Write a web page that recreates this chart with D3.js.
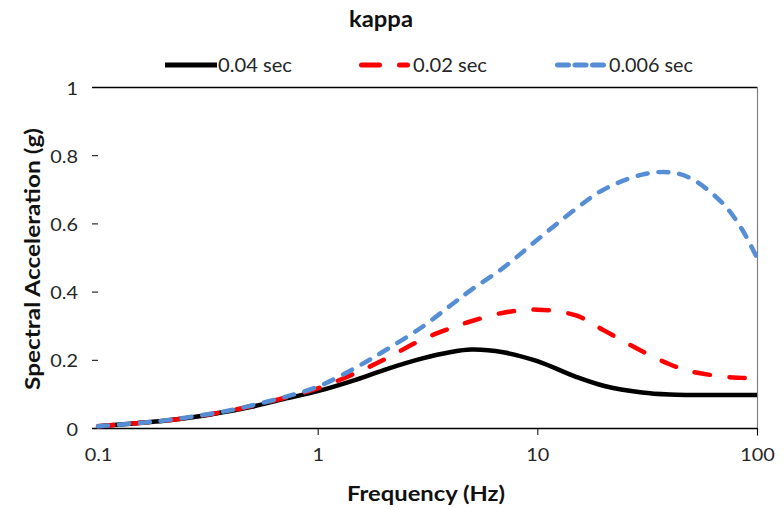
<!DOCTYPE html>
<html><head><meta charset="utf-8">
<script src="https://cdn.jsdelivr.net/npm/d3@7"></script>
<style>body{margin:0;background:#fff}svg{display:block}text{font-family:Lato,"Open Sans",sans-serif}</style>
</head><body><svg id="c" width="784" height="509"></svg>
<script>
const freqs = [0.1,0.15,0.2,0.3,0.4,0.5,0.7,1,1.5,2,3,4,5,7,10,15,20,30,40,50,70,85,100];
const k004 = [0.005,0.014,0.021,0.036,0.05,0.062,0.085,0.108,0.142,0.17,0.204,0.222,0.23,0.222,0.196,0.15,0.124,0.104,0.098,0.097,0.097,0.097,0.097];
const k002 = [0.005,0.014,0.021,0.037,0.051,0.064,0.088,0.116,0.162,0.2,0.26,0.292,0.313,0.338,0.347,0.33,0.287,0.225,0.187,0.166,0.151,0.147,0.145];
const k0006 = [0.005,0.014,0.022,0.038,0.052,0.066,0.09,0.121,0.178,0.225,0.297,0.358,0.405,0.47,0.552,0.643,0.699,0.743,0.75,0.732,0.658,0.585,0.499];
const seriesNames = ["0.04 sec","0.02 sec","0.006 sec"];
const xTicks = [0.1,1,10,100];
const xTickLabels = ["0.1","1","10","100"];
const yTicks = [0,0.2,0.4,0.6,0.8,1];
const yTickLabels = ["0","0.2","0.4","0.6","0.8","1"];
const title = "kappa", xTitle = "Frequency (Hz)", yTitle = "Spectral Acceleration (g)";

const L=98,R=757,T=87,B=428;
const svg=d3.select("#c");
const x=d3.scaleLog().domain([0.1,100]).range([L,R]);
const y=d3.scaleLinear().domain([0,1]).range([B,T]);
const STRETCH=1.17;
function stretch(sel,f){sel.each(function(){const w=this.getComputedTextLength();d3.select(this).attr("textLength",w*f).attr("lengthAdjust","spacingAndGlyphs");});}
function fitTo(sel,w){sel.attr("textLength",w).attr("lengthAdjust","spacingAndGlyphs");}

// frame lines
svg.append("line").attr("x1",92).attr("x2",R).attr("y1",T+0.5).attr("y2",T+0.5).attr("stroke","#000").attr("stroke-width",1.3);
svg.append("line").attr("x1",R+0.5).attr("x2",R+0.5).attr("y1",T).attr("y2",B+8).attr("stroke","#808080").attr("stroke-width",1.2);

// y axis
const ya=d3.axisLeft(y).tickValues(yTicks).tickFormat((d,i)=>yTickLabels[i]).tickSize(6).tickPadding(14);
const gy=svg.append("g").attr("transform",`translate(${L},0)`).call(ya);
gy.select(".domain").remove();
gy.selectAll("text").attr("font-size",17).attr("fill","#262626").attr("font-family","Lato").attr("dy","0.42em").call(stretch,STRETCH);
gy.selectAll("line").attr("stroke","#000");

// x axis
const xa=d3.axisBottom(x).tickValues(xTicks).tickFormat((d,i)=>xTickLabels[i]).tickSize(7).tickPadding(14);
const gx=svg.append("g").attr("transform",`translate(0,${B})`).call(xa);
gx.select(".domain").remove();
gx.selectAll(".tick").filter(d=>d===0.1).select("line").remove();
gx.selectAll("text").attr("font-size",17).attr("fill","#262626").attr("font-family","Lato").call(stretch,STRETCH);
gx.selectAll("line").attr("stroke","#000");
svg.append("line").attr("x1",92).attr("x2",R).attr("y1",B+0.5).attr("y2",B+0.5).attr("stroke","#000").attr("stroke-width",1.3);

// series
const data=[
  {name:seriesNames[0],vals:k004,color:"#000000",dash:null},
  {name:seriesNames[1],vals:k002,color:"#ff0000",dash:"15.5 19.5"},
  {name:seriesNames[2],vals:k0006,color:"#558ed5",dash:"10 11"}
];
const line=d3.line().x(d=>x(d[0])).y(d=>y(d[1])).curve(d3.curveCatmullRom.alpha(0.5));
data.forEach(s=>{
  svg.append("path").datum(freqs.map((f,i)=>[f,s.vals[i]])).attr("d",line)
    .attr("fill","none").attr("stroke",s.color).attr("stroke-width",4.5)
    .attr("stroke-linecap",s.dash?"round":"butt").attr("stroke-dasharray",s.dash);
});

// legend
const leg=[{x1:165,x2:217,tx:218,w:74,dash:null},{x1:361.5,x2:407.5,tx:413,w:74,dash:"18 20"},{x1:557.5,x2:604.5,tx:609,w:84,dash:"11 6.5"}];
data.forEach((s,i)=>{
  const l=leg[i];
  svg.append("line").attr("x1",l.x1).attr("x2",l.x2).attr("y1",65).attr("y2",65)
    .attr("stroke",s.color).attr("stroke-width",5).attr("stroke-linecap",s.dash?"round":"butt")
    .attr("stroke-dasharray",l.dash);
  svg.append("text").attr("x",l.tx).attr("y",72).attr("font-size",19.5).attr("fill","#262626").text(s.name).call(fitTo,l.w);
});

// titles
svg.append("text").attr("x",381).attr("y",27).attr("text-anchor","middle").attr("font-size",22).attr("font-weight","bold").attr("fill","#111").text(title).call(fitTo,64);
svg.append("text").attr("x",426).attr("y",501).attr("text-anchor","middle").attr("font-size",21).attr("font-weight","bold").attr("fill","#111").text(xTitle).call(fitTo,158);
svg.append("text").attr("transform",`translate(40,259) rotate(-90)`).attr("text-anchor","middle").attr("font-size",20).attr("font-weight","bold").attr("fill","#111").text(yTitle).call(fitTo,262);
</script></body></html>
